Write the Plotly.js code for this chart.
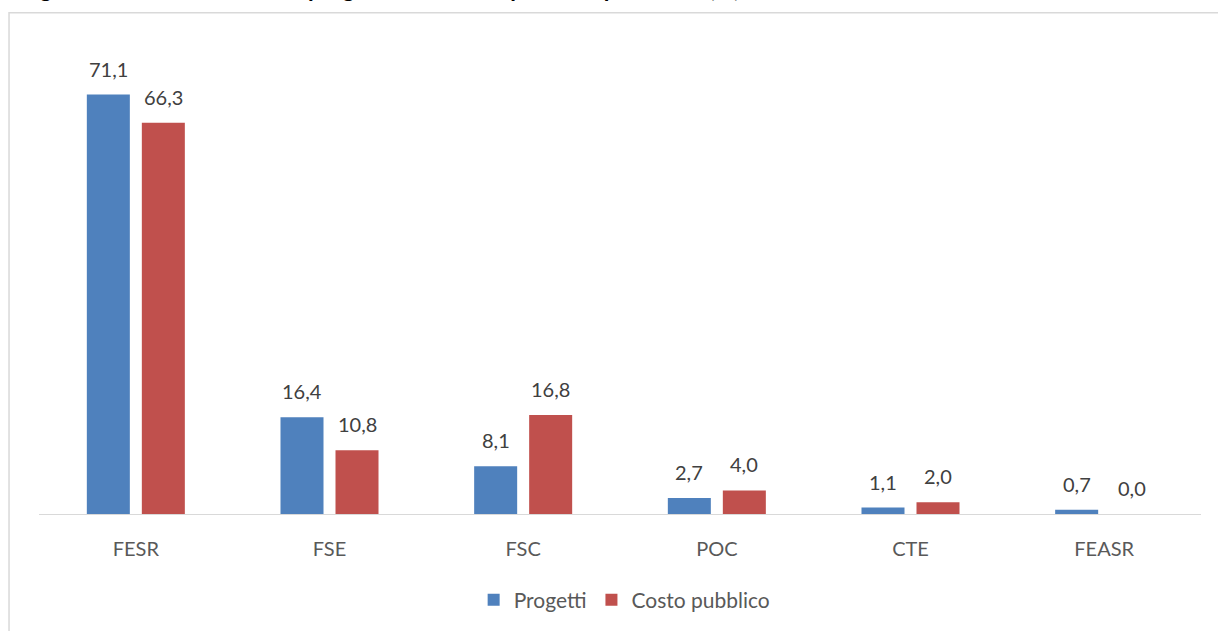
<!DOCTYPE html>
<html>
<head>
<meta charset="utf-8">
<script src="https://cdn.plot.ly/plotly-3.0.1.min.js"></script>
<style>html,body{margin:0;padding:0;background:#fff;}#chart{width:1218px;height:631px;}</style>
</head>
<body>
<div id="chart"></div>
<script>
const categories = ["FESR", "FSE", "FSC", "POC", "CTE", "FEASR"];
const progetti = [71.1, 16.4, 8.1, 2.7, 1.1, 0.7];
const costoPubblico = [66.3, 10.8, 16.8, 4.0, 2.0, 0.0];
const seriesNames = ["Progetti", "Costo pubblico"];
const titleText = "Figura 4 – Distribuzione dei progetti e del costo pubblico per fondo (%)";

const font = "Lato, 'Open Sans', sans-serif";
const labelFont = {family: font, size: 20, color: "#404040"};

const traces = [
  {type: "bar", name: seriesNames[0], x: categories, y: progetti,
   marker: {color: "#4F81BD"}, hoverinfo: "x+y"},
  {type: "bar", name: seriesNames[1], x: categories, y: costoPubblico,
   marker: {color: "#C0504D"}, hoverinfo: "x+y"}
];

const fmt = v => v.toFixed(1).replace(".", ",");
const labelAnns = [];
[progetti, costoPubblico].forEach((vals, si) => {
  vals.forEach((v, i) => {
    labelAnns.push({x: categories[i], y: v, xref: "x", yref: "y", text: fmt(v),
      showarrow: false, xshift: si === 0 ? -27.5 : 27.5, yshift: 26,
      xanchor: "center", yanchor: "middle", font: labelFont});
  });
});

const layout = {
  width: 1218, height: 631,
  margin: {l: 39, r: 17, t: 42, b: 116},
  paper_bgcolor: "#ffffff", plot_bgcolor: "#ffffff",
  barmode: "group", bargap: 0.432, bargroupgap: 0.218,
  showlegend: true,
  legend: {orientation: "h", x: 0.504, xanchor: "center", y: -0.18, yanchor: "middle",
           font: {family: font, size: 21, color: "#595959"}, traceorder: "normal"},
  xaxis: {showline: true, linecolor: "#d9d9d9", linewidth: 1, ticks: "", showgrid: false,
          ticklabelstandoff: 17,
          tickfont: {family: font, size: 20, color: "#595959"}, automargin: false},
  yaxis: {range: [0, 80], visible: false, showgrid: false, zeroline: false},
  shapes: [{type: "rect", xref: "paper", yref: "paper", x0: -0.0258, x1: 1.03, y0: -0.3, y1: 1.062,
            line: {color: "#d9d9d9", width: 1.5}, fillcolor: "rgba(0,0,0,0)", layer: "below"}],
  annotations: labelAnns.concat([{text: "<b>" + titleText + "</b>", xref: "paper", yref: "paper",
                 x: -0.017, xanchor: "left", y: 1.1141, yanchor: "middle", showarrow: false,
                 font: {family: font, size: 23, color: "#000000"}}])
};

Plotly.newPlot("chart", traces, layout, {displayModeBar: false, staticPlot: true});
</script>
</body>
</html>
